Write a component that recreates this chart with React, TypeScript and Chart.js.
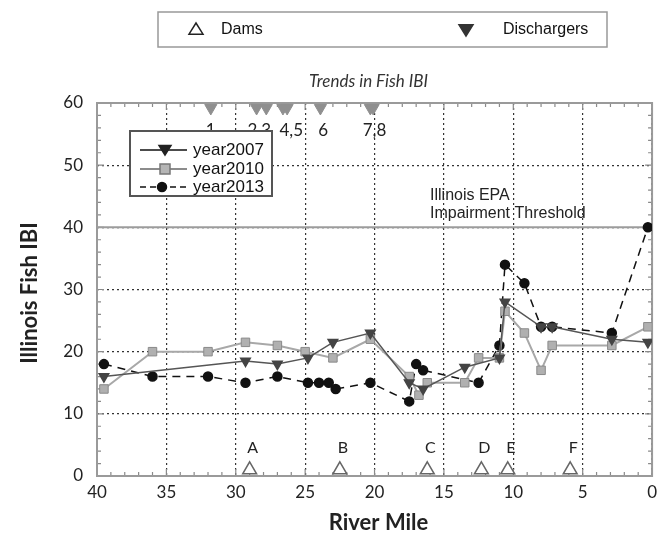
import React, { useEffect, useRef } from 'react';
import { Chart, registerables } from 'chart.js';

Chart.register(...registerables);

// ---- data ----
const miles2007 = [39.5, 29.3, 27.0, 24.8, 23.0, 20.3, 17.5, 16.5, 13.5, 11.0, 10.6, 8.0, 7.2, 2.9, 0.3];
const ibi2007 = [16, 18.5, 18, 19, 21.5, 23, 15, 14, 17.5, 19, 28, 24, 24, 22, 21.5];

const miles2010 = [39.5, 36.0, 32.0, 29.3, 27.0, 25.0, 23.0, 20.3, 17.5, 16.8, 16.2, 13.5, 12.5, 11.0, 10.6, 9.2, 8.0, 7.2, 2.9, 0.3];
const ibi2010 = [14, 20, 20, 21.5, 21, 20, 19, 22, 16, 13, 15, 15, 19, 19, 26.5, 23, 17, 21, 21, 24];

const miles2013 = [39.5, 36.0, 32.0, 29.3, 27.0, 24.8, 24.0, 23.3, 22.8, 20.3, 17.5, 17.0, 16.5, 12.5, 11.0, 10.6, 9.2, 8.0, 7.2, 2.9, 0.3];
const ibi2013 = [18, 16, 16, 15, 16, 15, 15, 15, 14, 15, 12, 18, 17, 15, 21, 34, 31, 24, 24, 23, 40];

const damMiles = [29.0, 22.5, 16.2, 12.3, 10.4, 5.9];
const damLabels = ['A', 'B', 'C', 'D', 'E', 'F'];
const damLevel = 1;

const dischargerMiles = [31.8, 28.5, 27.8, 26.6, 26.3, 23.9, 20.3, 20.1];
const dischargerLevel = 59.2;
const dischargerGroupMiles = [31.8, 28.3, 26.0, 23.7, 20.0];
const dischargerGroupLabels = ['1', '2,3', '4,5', '6', '7,8'];

const thresholdValue = 40;
const thresholdLabel = ['Illinois EPA', 'Impairment Threshold'];
const thresholdLabelMile = 16.0;

const xTicks = [40, 35, 30, 25, 20, 15, 10, 5, 0];
const yTicks = [0, 10, 20, 30, 40, 50, 60];

const titleText = 'Trends in Fish IBI';
const xTitle = 'River Mile';
const yTitle = 'Illinois Fish IBI';
const seriesNames = ['year2007', 'year2010', 'year2013'];

const pts = (xs: number[], ys: number[]) => xs.map((x, i) => ({ x, y: ys[i] }));

const C2007 = '#555555';
const C2010 = '#a8a8a8';
const C2013 = '#111111';

function drawMarker(ctx: CanvasRenderingContext2D, kind: string, x: number, y: number, r: number, fill: string, stroke: string) {
  ctx.beginPath();
  if (kind === 'down') {
    ctx.moveTo(x - r, y - r * 0.6);
    ctx.lineTo(x + r, y - r * 0.6);
    ctx.lineTo(x, y + r);
    ctx.closePath();
  } else if (kind === 'up') {
    ctx.moveTo(x - r, y + r * 0.6);
    ctx.lineTo(x + r, y + r * 0.6);
    ctx.lineTo(x, y - r);
    ctx.closePath();
  } else if (kind === 'rect') {
    ctx.rect(x - r, y - r, 2 * r, 2 * r);
  } else {
    ctx.arc(x, y, r, 0, Math.PI * 2);
  }
  ctx.fillStyle = fill;
  ctx.fill();
  ctx.strokeStyle = stroke;
  ctx.lineWidth = 1.5;
  ctx.stroke();
}

const overlay = {
  id: 'overlay',
  beforeDatasetsDraw(chart: any) {
    const { ctx, chartArea: a, scales } = chart;
    const x = scales.x, y = scales.y;
    ctx.save();
    // minor ticks
    ctx.strokeStyle = '#8a8a8a';
    ctx.lineWidth = 1.2;
    for (let m = 0; m <= 40; m++) {
      const px = x.getPixelForValue(m);
      const len = m % 5 === 0 ? 7 : 4;
      ctx.beginPath();
      ctx.moveTo(px, a.bottom); ctx.lineTo(px, a.bottom - len);
      ctx.moveTo(px, a.top); ctx.lineTo(px, a.top + len);
      ctx.stroke();
    }
    for (let v = 0; v <= 60; v += 2) {
      const py = y.getPixelForValue(v);
      const len = v % 10 === 0 ? 7 : 4;
      ctx.beginPath();
      ctx.moveTo(a.left, py); ctx.lineTo(a.left + len, py);
      ctx.moveTo(a.right, py); ctx.lineTo(a.right - len, py);
      ctx.stroke();
    }
    // frame
    ctx.strokeStyle = '#9a9a9a';
    ctx.lineWidth = 2;
    ctx.strokeRect(a.left, a.top, a.right - a.left, a.bottom - a.top);
    // threshold
    const ty = y.getPixelForValue(thresholdValue);
    ctx.strokeStyle = '#9c9c9c';
    ctx.lineWidth = 2;
    ctx.beginPath();
    ctx.moveTo(a.left, ty); ctx.lineTo(a.right, ty);
    ctx.stroke();
    ctx.restore();
  },
  afterDraw(chart: any) {
    const { ctx, chartArea: a, scales } = chart;
    const x = scales.x, y = scales.y;
    ctx.save();
    ctx.textBaseline = 'middle';
    ctx.textAlign = 'center';

    // title
    ctx.font = 'italic 17px Lato';
    ctx.fillStyle = '#333';
    ctx.fillText(titleText, (a.left + a.right) / 2 - 6, 82);

    // axis titles
    ctx.fillStyle = '#222';
    ctx.font = 'bold 22px Lato';
    ctx.fillText(xTitle, (a.left + a.right) / 2 + 4, 523);
    ctx.save();
    ctx.translate(30, 293);
    ctx.rotate(-Math.PI / 2);
    ctx.fillText(yTitle, 0, 0);
    ctx.restore();

    // dam labels
    ctx.font = '16px Lato';
    damMiles.forEach((m, i) => {
      ctx.fillText(damLabels[i], x.getPixelForValue(m) + 3, y.getPixelForValue(damLevel) - 22);
    });
    // discharger labels
    ctx.font = '17px Lato';
    dischargerGroupMiles.forEach((m, i) => {
      ctx.fillText(dischargerGroupLabels[i], x.getPixelForValue(m), y.getPixelForValue(dischargerLevel) + 23);
    });

    // threshold label
    ctx.textAlign = 'left';
    ctx.font = '16px "Liberation Sans"';
    const tx = x.getPixelForValue(thresholdLabelMile);
    const ty = y.getPixelForValue(thresholdValue);
    ctx.fillText(thresholdLabel[0], tx, ty - 32);
    ctx.fillText(thresholdLabel[1], tx, ty - 14);

    // top legend
    ctx.fillStyle = '#fff';
    ctx.fillRect(158, 12, 449, 35);
    ctx.strokeStyle = '#999';
    ctx.lineWidth = 1.5;
    ctx.strokeRect(158, 12, 449, 35);
    drawMarker(ctx, 'up', 196, 30, 7, '#fff', '#222');
    drawMarker(ctx, 'down', 466, 29, 7, '#333', '#333');
    ctx.fillStyle = '#111';
    ctx.font = '16px "Liberation Sans"';
    ctx.fillText('Dams', 221, 30);
    ctx.fillText('Dischargers', 503, 30);

    // inner legend
    ctx.fillStyle = '#fff';
    ctx.fillRect(130, 131, 142, 65);
    ctx.strokeStyle = '#555';
    ctx.lineWidth = 2;
    ctx.strokeRect(130, 131, 142, 65);
    const rows = [150, 169, 187];
    rows.forEach((ry, i) => {
      ctx.strokeStyle = i === 1 ? '#666' : '#111';
      ctx.lineWidth = 1.5;
      ctx.setLineDash(i === 2 ? [6, 4] : []);
      ctx.beginPath();
      ctx.moveTo(140, ry); ctx.lineTo(187, ry);
      ctx.stroke();
      ctx.setLineDash([]);
      if (i === 0) drawMarker(ctx, 'down', 165, ry - 1, 6, '#222', '#222');
      if (i === 1) drawMarker(ctx, 'rect', 165, ry, 5, '#b5b5b5', '#777');
      if (i === 2) drawMarker(ctx, 'circle', 162, ry, 4.5, '#111', '#111');
      ctx.fillStyle = '#111';
      ctx.font = '17px "Liberation Sans"';
      ctx.fillText(seriesNames[i], 193, ry);
    });
    ctx.restore();
  },
};

export default function App() {
  const ref = useRef<HTMLCanvasElement>(null);
  useEffect(() => {
    if (!ref.current) return;
    const chart = new Chart(ref.current, {
      type: 'scatter',
      data: {
        datasets: [
          {
            label: seriesNames[0],
            data: pts(miles2007, ibi2007),
            showLine: true,
            borderColor: C2007,
            borderWidth: 1.5,
            backgroundColor: '#444',
            pointBorderColor: '#444',
            pointStyle: 'triangle',
            rotation: 180,
            pointRadius: 5.5,
          },
          {
            label: seriesNames[1],
            data: pts(miles2010, ibi2010),
            showLine: true,
            borderColor: C2010,
            borderWidth: 2,
            backgroundColor: '#b0b0b0',
            pointBorderColor: '#8a8a8a',
            pointBorderWidth: 1,
            pointStyle: 'rect',
            pointRadius: 6,
          },
          {
            label: seriesNames[2],
            data: pts(miles2013, ibi2013),
            showLine: true,
            borderColor: C2013,
            borderWidth: 1.5,
            borderDash: [8, 6],
            backgroundColor: '#111',
            pointBorderColor: '#111',
            pointStyle: 'circle',
            pointRadius: 4.5,
          },
          {
            label: 'Dams',
            data: damMiles.map((m) => ({ x: m, y: damLevel })),
            showLine: false,
            pointStyle: 'triangle',
            pointRadius: 8,
            backgroundColor: '#fff',
            borderColor: '#666',
            pointBorderWidth: 1.5,
            clip: false as any,
          },
          {
            label: 'Dischargers',
            data: dischargerMiles.map((m) => ({ x: m, y: dischargerLevel })),
            showLine: false,
            pointStyle: 'triangle',
            rotation: 180,
            pointRadius: 7,
            backgroundColor: '#8f8f8f',
            borderColor: '#8f8f8f',
            clip: false as any,
          },
        ],
      },
      options: {
        animation: false,
        responsive: false,
        layout: { padding: { top: 103, right: 5, left: 0, bottom: 0 } },
        plugins: { legend: { display: false }, tooltip: { enabled: false }, title: { display: false } },
        scales: {
          x: {
            type: 'linear',
            reverse: true,
            min: 0,
            max: 40,
            afterFit: (s: any) => { s.height = 61; },
            afterBuildTicks: (s: any) => { s.ticks = xTicks.map((v) => ({ value: v })); },
            ticks: { color: '#222', font: { family: 'Lato', size: 17 }, padding: 6, maxRotation: 0 },
            grid: { color: '#333', lineWidth: 1.2, drawTicks: false },
            border: { display: false, dash: [2, 3] },
          },
          y: {
            min: 0,
            max: 60,
            afterFit: (s: any) => { s.width = 97; },
            afterBuildTicks: (s: any) => { s.ticks = yTicks.map((v) => ({ value: v })); },
            ticks: { color: '#222', font: { family: 'Lato', size: 17 }, padding: 14 },
            grid: { color: '#333', lineWidth: 1.2, drawTicks: false },
            border: { display: false, dash: [2, 3] },
          },
        },
      },
      plugins: [overlay],
    });
    return () => chart.destroy();
  }, []);
  return (
    <div style={{ position: 'fixed', left: 0, top: 0, width: 663, height: 537, background: '#fff' }}>
      <canvas ref={ref} width={663} height={537} style={{ display: 'block' }} />
    </div>
  );
}
